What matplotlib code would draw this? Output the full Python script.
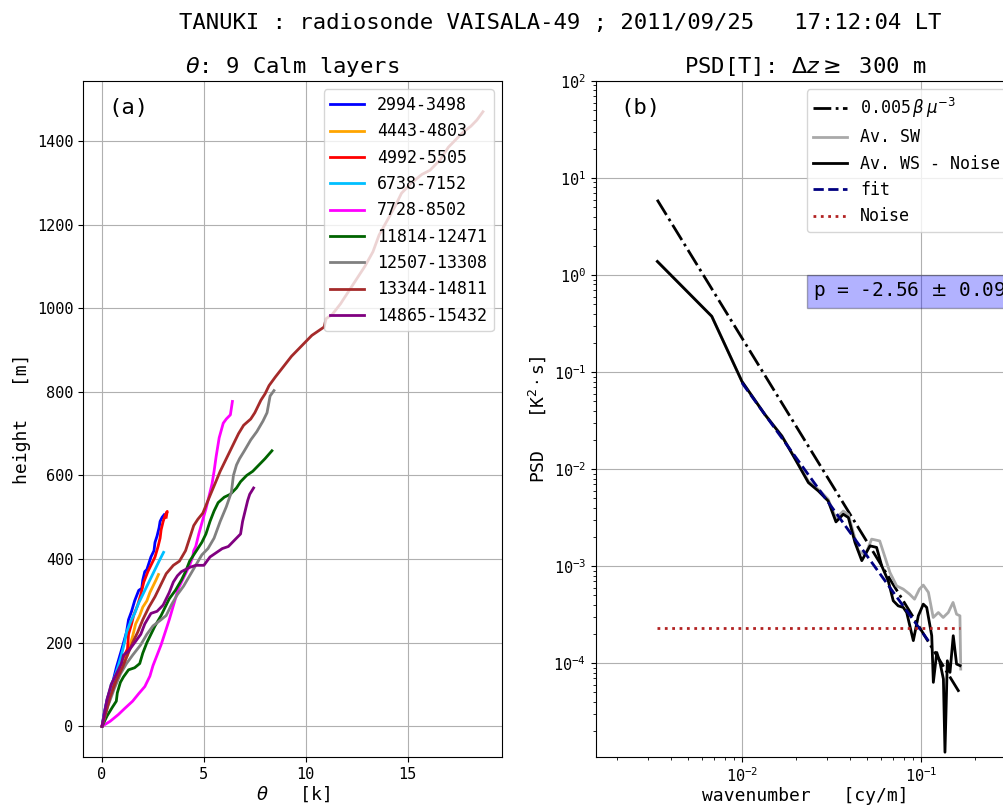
import numpy as np
import matplotlib
matplotlib.use('Agg')
from matplotlib import pyplot as plt

plt.rcParams['font.family'] = 'DejaVu Sans Mono'

# ---- panel (a): potential temperature anomaly vs height, 9 calm layers
layer_names = ['2994-3498', '4443-4803', '4992-5505', '6738-7152', '7728-8502',
               '11814-12471', '12507-13308', '13344-14811', '14865-15432']
layer_colors = ['blue', 'orange', 'red', 'deepskyblue', 'magenta',
                'darkgreen', 'gray', 'brown', 'purple']

theta_2994 = [0, 0.1, 0.25, 0.35, 0.5, 0.7, 0.85, 1.0, 1.2, 1.3, 1.45, 1.6, 1.8, 1.95, 2.0,
              2.1, 2.2, 2.4, 2.55, 2.6, 2.7, 2.8, 2.85, 2.95, 3.05]
h_2994 = [0, 30, 65, 80, 100, 140, 165, 190, 225, 255, 275, 300, 325, 330, 350,
          370, 375, 405, 420, 440, 455, 475, 490, 500, 506]

theta_4443 = [0, 0.2, 0.45, 0.7, 0.9, 1.05, 1.25, 1.35, 1.5, 1.65, 1.85, 2.0, 2.2, 2.35,
              2.5, 2.65, 2.77]
h_4443 = [0, 40, 80, 110, 135, 150, 170, 190, 215, 245, 265, 285, 300, 320, 335, 350, 363]

theta_4992 = [0, 0.15, 0.35, 0.5, 0.75, 0.9, 1.05, 1.25, 1.3, 1.45, 1.55, 1.75, 1.9, 2.05,
              2.25, 2.4, 2.6, 2.75, 2.85, 2.9, 3.0, 3.1, 3.2, 3.15]
h_4992 = [0, 35, 60, 90, 118, 150, 165, 185, 220, 245, 265, 290, 315, 345,
          370, 385, 405, 430, 450, 470, 490, 505, 514, 500]

theta_6738 = [0, 0.2, 0.45, 0.6, 0.8, 0.95, 1.1, 1.2, 1.4, 1.6, 1.8, 2.0, 2.2, 2.4, 2.6,
              2.8, 3.02]
h_6738 = [0, 50, 100, 115, 145, 170, 200, 225, 250, 270, 295, 315, 335, 355, 375, 395, 416]

theta_7728 = [0, 0.4, 0.8, 1.1, 1.5, 1.8, 2.1, 2.25, 2.35, 2.5, 2.7, 2.9, 3.1, 3.3, 3.45,
              3.6, 3.75, 3.9, 4.1, 4.3, 4.45, 4.5, 4.6, 4.75, 4.95, 5.1, 5.25, 5.4, 5.5,
              5.6, 5.75, 5.95, 6.1, 6.3, 6.4]
h_7728 = [0, 12, 28, 42, 60, 78, 95, 110, 120, 145, 170, 195, 225, 255, 280,
          305, 330, 345, 365, 385, 405, 420, 430, 460, 495, 520, 550, 580, 610,
          645, 690, 725, 735, 745, 777]

theta_11814 = [0, 0.25, 0.5, 0.7, 0.75, 0.9, 1.05, 1.3, 1.6, 1.85, 2.0, 2.2, 2.4, 2.6, 2.9,
               3.2, 3.3, 3.6, 3.9, 4.1, 4.3, 4.5, 4.7, 4.9, 5.1, 5.3, 5.5, 5.7, 6.0, 6.3,
               6.6, 6.8, 7.1, 7.4, 7.7, 8.0, 8.34]
h_11814 = [0, 25, 45, 60, 80, 105, 118, 135, 140, 150, 175, 200, 220, 240, 265,
           295, 305, 325, 350, 370, 395, 410, 425, 440, 460, 490, 515, 535, 548, 555,
           570, 585, 600, 610, 625, 640, 659]

theta_12507 = [0, 0.3, 0.6, 0.9, 1.2, 1.5, 1.9, 2.2, 2.5, 2.9, 3.15, 3.4, 3.7, 4.0, 4.3,
               4.6, 4.9, 5.2, 5.5, 5.8, 6.1, 6.35, 6.45, 6.6, 6.75, 7.0, 7.3, 7.6, 7.9,
               8.1, 8.25, 8.44]
h_12507 = [0, 50, 90, 125, 150, 170, 195, 220, 240, 255, 265, 290, 315, 335, 360,
           385, 410, 425, 450, 490, 525, 560, 600, 625, 640, 660, 685, 705, 730,
           750, 790, 803]

theta_13344 = [0, 0.2, 0.4, 0.7, 1.0, 1.2, 1.5, 1.75, 2.0, 2.3, 2.6, 2.9, 3.15, 3.5, 3.8,
               4.1, 4.3, 4.5, 4.7, 4.95, 5.2, 5.5, 5.8, 6.1, 6.4, 6.7, 6.95, 7.3, 7.5,
               7.7, 7.8, 8.0, 8.2, 8.5, 8.9, 9.3, 9.8, 10.3, 10.9, 11.0, 11.3, 11.7,
               12.1, 12.5, 12.9, 13.3, 13.6, 14.0, 14.4, 14.7, 15.2, 15.7, 16.1, 16.6,
               17.0, 17.3, 17.7, 18.1, 18.4, 18.7]
h_13344 = [0, 35, 70, 110, 140, 165, 200, 225, 255, 285, 310, 340, 365, 385, 395,
           420, 450, 480, 495, 510, 540, 575, 610, 640, 670, 700, 720, 735, 750,
           770, 780, 795, 815, 835, 860, 885, 910, 935, 955, 975, 985, 1010,
           1040, 1070, 1100, 1135, 1175, 1210, 1245, 1275, 1300, 1320, 1330, 1355,
           1385, 1400, 1420, 1435, 1450, 1470]

theta_14865 = [0, 0.15, 0.25, 0.45, 0.7, 0.95, 1.05, 1.3, 1.6, 1.9, 2.1, 2.4, 2.7, 3.0,
               3.3, 3.5, 3.7, 3.9, 4.1, 4.3, 4.6, 5.0, 5.3, 5.6, 5.9, 6.2, 6.5, 6.8,
               6.9, 7.0, 7.15, 7.25, 7.44]
h_14865 = [0, 40, 65, 100, 125, 150, 170, 180, 200, 220, 245, 270, 275, 290,
           320, 345, 360, 370, 375, 380, 385, 385, 405, 415, 425, 430, 445, 460,
           490, 510, 540, 555, 570]

layer_theta = [theta_2994, theta_4443, theta_4992, theta_6738, theta_7728,
               theta_11814, theta_12507, theta_13344, theta_14865]
layer_height = [h_2994, h_4443, h_4992, h_6738, h_7728,
                h_11814, h_12507, h_13344, h_14865]

# ---- panel (b): temperature spectra
k_ws = [0.00337, 0.00678, 0.01, 0.0134, 0.0167, 0.0194, 0.0235, 0.0267, 0.0303, 0.0335,
        0.0368, 0.0393, 0.0428, 0.0467, 0.0519, 0.0565, 0.0603, 0.0656, 0.070, 0.0746,
        0.0796, 0.0832, 0.0906, 0.0966, 0.103, 0.1076, 0.1148, 0.1172, 0.1225, 0.1276,
        0.1334, 0.1361, 0.1403, 0.1452, 0.1514, 0.158, 0.1652]
psd_ws = [1.38, 0.376, 0.08, 0.0367, 0.0219, 0.0136, 0.00726, 0.00596, 0.0047, 0.00286,
          0.00343, 0.00317, 0.00175, 0.00114, 0.00162, 0.00156, 0.00101, 0.000706, 0.00044,
          0.00039, 0.000376, 0.000333, 0.000171, 0.000308, 0.000406, 0.000376, 0.000192,
          6.35e-5, 0.000129, 0.000102, 6.87e-5, 1.21e-5, 0.000106, 8.05e-5, 0.000192,
          9.8e-5, 9.44e-5]

k_sw = [0.00337, 0.00678, 0.01, 0.0134, 0.0167, 0.0194, 0.0235, 0.0267, 0.0303, 0.0335,
        0.0368, 0.0393, 0.0447, 0.0488, 0.053, 0.0588, 0.0671, 0.0731, 0.0796, 0.0863,
        0.092, 0.098, 0.103, 0.11, 0.117, 0.125, 0.133, 0.142, 0.151, 0.158, 0.165, 0.1667]
psd_sw = [1.38, 0.376, 0.08, 0.0369, 0.0221, 0.0138, 0.0075, 0.0062, 0.0049, 0.0031,
          0.0037, 0.0034, 0.00144, 0.0013, 0.0019, 0.00182, 0.00086, 0.000626, 0.00058,
          0.000515, 0.000457, 0.00058, 0.000638, 0.000537, 0.000296, 0.000333, 0.000296,
          0.000333, 0.000423, 0.00032, 0.000308, 8.7e-5]

k_model = [0.00336, 0.165]
psd_model = [5.97, 4.9e-5]

k_fit = [0.01, 0.11]
psd_fit = [0.0776, 1.7e-4]

k_noise = [0.00336, 0.165]
psd_noise = [2.28e-4, 2.28e-4]

fit_text = r'p = -2.56 $\pm$ 0.09'


fig = plt.figure(figsize=(10.04, 8.07), dpi=100)
ax1 = fig.add_axes([83 / 1004, 50 / 807, 419 / 1004, 676 / 807])
ax2 = fig.add_axes([596 / 1004, 50 / 807, 419 / 1004, 676 / 807])

fig.suptitle('TANUKI : radiosonde VAISALA-49 ; 2011/09/25   17:12:04 LT',
             x=0.558, y=0.984, fontsize=16)

# left panel
for th, hh, name, col in zip(layer_theta, layer_height, layer_names, layer_colors):
    ax1.plot(th, hh, color=col, lw=2, label=name)
ax1.set_title(r'$\theta$: 9 Calm layers', fontsize=16)
ax1.set_xlabel(r'$\theta$   [k]', fontsize=13, labelpad=2)
ax1.set_ylabel('height   [m]', fontsize=13)
ax1.set_yticks(np.arange(0, 1401, 200))
ax1.set_xticks([0, 5, 10, 15])
ax1.tick_params(labelsize=11)
ax1.grid(True)
ax1.legend(loc='upper right', fontsize=12)
ax1.text(0.06, 0.975, '(a)', transform=ax1.transAxes, fontsize=16, va='top', ha='left')

# right panel
ax2.loglog(k_model, psd_model, 'k-.', lw=2, label=r'0.005$\,\beta\,\mu^{-3}$')
ax2.loglog(k_sw, psd_sw, color='darkgray', lw=2, label='Av. SW')
ax2.loglog(k_ws, psd_ws, 'k-', lw=2, label='Av. WS - Noise')
ax2.loglog(k_fit, psd_fit, '--', color='navy', lw=2, label='fit')
ax2.loglog(k_noise, psd_noise, ':', color='firebrick', lw=2, label='Noise')
ax2.set_xlim(0.00153, 0.335)
ax2.set_ylim(1.08e-5, 100)
ax2.set_title(r'PSD[T]: $\Delta z \geq$ 300 m', fontsize=16)
ax2.set_xlabel('wavenumber   [cy/m]', fontsize=13, labelpad=1)
ax2.set_ylabel(r'PSD   [K$^2\cdot$s]', fontsize=13)
ax2.tick_params(labelsize=11)
ax2.grid(True)
ax2.legend(loc='upper right', fontsize=12)
ax2.text(0.057, 0.975, '(b)', transform=ax2.transAxes, fontsize=16, va='top', ha='left')
ax2.text(0.518, 0.689, fit_text, transform=ax2.transAxes, fontsize=14,
         va='center', ha='left', bbox=dict(facecolor='blue', alpha=0.3))

plt.savefig('out.png', dpi=100)
